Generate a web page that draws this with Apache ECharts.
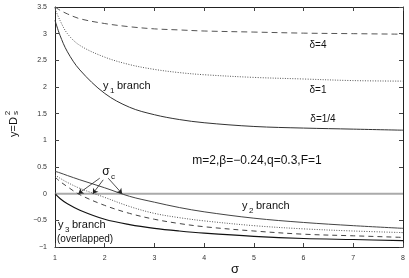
<!DOCTYPE html>
<html><head><meta charset="utf-8">
<script src="https://cdn.jsdelivr.net/npm/echarts@6/dist/echarts.min.js"></script>
<style>html,body{margin:0;padding:0;background:#fff}#c{width:409px;height:278px}</style>
</head><body><div id="c"></div>
<script>
const sigma = [1, 1.1, 1.25, 1.5, 2, 2.5, 3, 3.5, 4, 5, 6, 7, 8];
const y1Delta4 = [3.5, 3.44, 3.37, 3.28, 3.19, 3.13, 3.09, 3.07, 3.05, 3.03, 3.01, 3.0, 2.99];
const y1Delta1 = [3.47, 3.25, 3.0, 2.78, 2.56, 2.42, 2.33, 2.27, 2.23, 2.18, 2.15, 2.12, 2.11];
const y1DeltaQ = [3.25, 2.97, 2.66, 2.32, 1.88, 1.62, 1.48, 1.39, 1.33, 1.26, 1.23, 1.21, 1.19];
const y2Solid = [0.42, 0.39, 0.34, 0.26, 0.11, -0.05, -0.16, -0.26, -0.34, -0.46, -0.54, -0.60, -0.65];
const y2Dotted = [0.35, 0.29, 0.21, 0.10, -0.07, -0.24, -0.37, -0.45, -0.51, -0.60, -0.66, -0.70, -0.73];
const y2Dashed = [0.31, 0.23, 0.13, -0.02, -0.22, -0.37, -0.48, -0.56, -0.62, -0.70, -0.76, -0.79, -0.82];
const y3Branch = [0, -0.09, -0.19, -0.31, -0.48, -0.58, -0.65, -0.70, -0.74, -0.80, -0.84, -0.86, -0.88];
const zeroLine = [[1, 0], [8, 0]];
const sigmaC = [1.47, 1.76, 2.35];
const xTicks = [1, 8, 1];
const yTicks = [-1, 3.5, 0.5];

const FONT = 'Liberation Sans, Arial, sans-serif';
const pair = arr => sigma.map((s, i) => [s, arr[i]]);
function line(data, color, type, width) {
  return { type: 'line', data: pair(data), showSymbol: false, smooth: 0.35,
    lineStyle: { color: color, type: type, width: width || 1 }, silent: true, z: 3 };
}
const axisCommon = (min, max, interval, pos, showLabel) => ({
  type: 'value', min: min, max: max, interval: interval, position: pos,
  axisLine: { show: true, onZero: false, lineStyle: { color: '#222', width: 1 } },
  axisTick: { show: true, inside: true, length: 4, lineStyle: { color: '#444' } },
  axisLabel: { show: showLabel, fontSize: 7, color: '#333', fontFamily: FONT,
    formatter: v => String(v).replace('-', '\u2212') },
  splitLine: { show: false }
});

const chart = echarts.init(document.getElementById('c'), null, { renderer: 'canvas' });
const arrows = sigmaC.map((sc, i) => [
  { coord: [[1.9, 1.97, 2.07][i], [0.29, 0.26, 0.29][i]] },
  { coord: [sc, 0.0] }
]);
chart.setOption({
  animation: false,
  backgroundColor: '#fff',
  grid: { left: 55, right: 6, top: 7, bottom: 31 },
  xAxis: [axisCommon(xTicks[0], xTicks[1], xTicks[2], 'bottom', true),
          axisCommon(xTicks[0], xTicks[1], xTicks[2], 'top', false)],
  yAxis: [axisCommon(yTicks[0], yTicks[1], yTicks[2], 'left', true),
          axisCommon(yTicks[0], yTicks[1], yTicks[2], 'right', false)],
  series: [
    { type: 'line', data: zeroLine, showSymbol: false, lineStyle: { color: '#aaa', width: 2 }, z: 2, silent: true,
      markLine: { silent: true, symbol: ['none', 'arrow'], symbolSize: 5, label: { show: false },
        lineStyle: { color: '#222', width: 0.8, type: 'solid' }, data: arrows } },
    line(y1Delta4, '#555', [6, 4]),
    line(y1Delta1, '#555', [1, 1.5]),
    line(y1DeltaQ, '#333', 'solid'),
    line(y2Solid, '#444', 'solid'),
    line(y2Dotted, '#555', [1, 1.5]),
    line(y2Dashed, '#444', [5, 4]),
    line(y3Branch, '#111', 'solid', 1.1)
  ],
  graphic: [
    { type: 'text', x: 318, y: 45, style: { text: '\u03b4=4', font: '10px ' + FONT, fill: '#111', align: 'center', verticalAlign: 'middle' } },
    { type: 'text', x: 318, y: 90, style: { text: '\u03b4=1', font: '10px ' + FONT, fill: '#111', align: 'center', verticalAlign: 'middle' } },
    { type: 'text', x: 323, y: 119, style: { text: '\u03b4=1/4', font: '10px ' + FONT, fill: '#111', align: 'center', verticalAlign: 'middle' } },
    { type: 'text', x: 103, y: 86, style: { text: 'y', font: '11px ' + FONT, fill: '#111', align: 'left', verticalAlign: 'middle' } },
    { type: 'text', x: 110, y: 91, style: { text: '1', font: '8px ' + FONT, fill: '#111', align: 'left', verticalAlign: 'middle' } },
    { type: 'text', x: 117, y: 86, style: { text: 'branch', font: '11px ' + FONT, fill: '#111', align: 'left', verticalAlign: 'middle' } },
    { type: 'text', x: 257, y: 161, style: { text: 'm=2,\u03b2=\u22120.24,q=0.3,F=1', font: '12px ' + FONT, fill: '#111', align: 'center', verticalAlign: 'middle' } },
    { type: 'text', x: 242, y: 206, style: { text: 'y', font: '11px ' + FONT, fill: '#111', align: 'left', verticalAlign: 'middle' } },
    { type: 'text', x: 249, y: 211, style: { text: '2', font: '8px ' + FONT, fill: '#111', align: 'left', verticalAlign: 'middle' } },
    { type: 'text', x: 256, y: 206, style: { text: 'branch', font: '11px ' + FONT, fill: '#111', align: 'left', verticalAlign: 'middle' } },
    { type: 'text', x: 58, y: 225, style: { text: 'y', font: '11px ' + FONT, fill: '#111', align: 'left', verticalAlign: 'middle' } },
    { type: 'text', x: 65, y: 230, style: { text: '3', font: '8px ' + FONT, fill: '#111', align: 'left', verticalAlign: 'middle' } },
    { type: 'text', x: 72, y: 225, style: { text: 'branch', font: '11px ' + FONT, fill: '#111', align: 'left', verticalAlign: 'middle' } },
    { type: 'text', x: 57, y: 239, style: { text: '(overlapped)', font: '10px ' + FONT, fill: '#111', align: 'left', verticalAlign: 'middle' } },
    { type: 'text', x: 106, y: 172, style: { text: '\u03c3', font: '12px ' + FONT, fill: '#111', align: 'center', verticalAlign: 'middle' } },
    { type: 'text', x: 113, y: 177, style: { text: 'c', font: '8px ' + FONT, fill: '#111', align: 'center', verticalAlign: 'middle' } },
    { type: 'text', x: 235, y: 269, style: { text: '\u03c3', font: '13px ' + FONT, fill: '#111', align: 'center', verticalAlign: 'middle' } },
    { type: 'group', x: 13.5, y: 127, rotation: Math.PI / 2, children: [
      { type: 'text', x: 0, y: 0, style: { text: 'y=D', font: '11px ' + FONT, fill: '#111', align: 'center', verticalAlign: 'middle' } },
      { type: 'text', x: 14, y: -6, style: { text: '2', font: '8px ' + FONT, fill: '#111', align: 'center', verticalAlign: 'middle' } },
      { type: 'text', x: 14, y: 2, style: { text: 's', font: '8px ' + FONT, fill: '#111', align: 'center', verticalAlign: 'middle' } }
    ] }
  ]
});
</script></body></html>
